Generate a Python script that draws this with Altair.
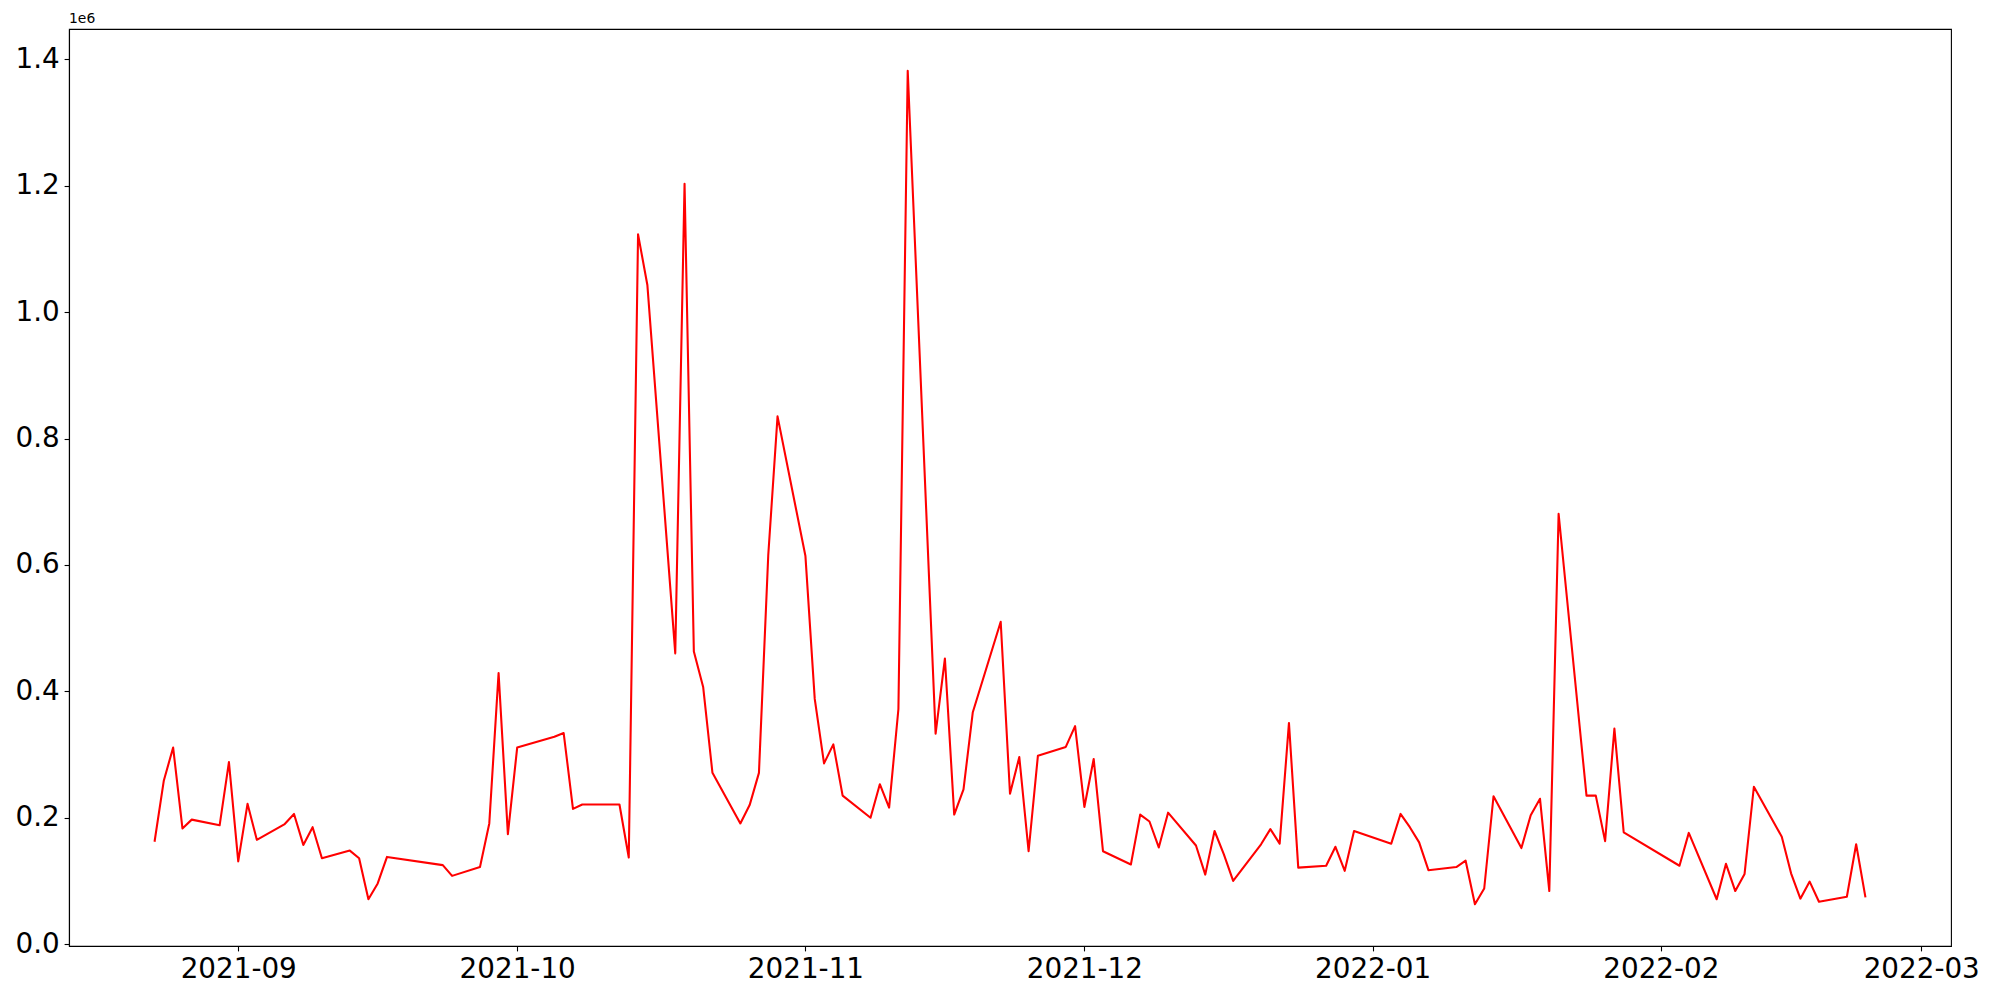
import altair as alt
import pandas as pd

dates = [
    "2021-08-23", "2021-08-24", "2021-08-25", "2021-08-26", "2021-08-27",
    "2021-08-30", "2021-08-31", "2021-09-01", "2021-09-02", "2021-09-03",
    "2021-09-06", "2021-09-07", "2021-09-08", "2021-09-09", "2021-09-10",
    "2021-09-13", "2021-09-14", "2021-09-15", "2021-09-16", "2021-09-17",
    "2021-09-23", "2021-09-24", "2021-09-27", "2021-09-28", "2021-09-29",
    "2021-09-30", "2021-10-01", "2021-10-05", "2021-10-06", "2021-10-07",
    "2021-10-08", "2021-10-12", "2021-10-13", "2021-10-14", "2021-10-15",
    "2021-10-18", "2021-10-19", "2021-10-20", "2021-10-21", "2021-10-22",
    "2021-10-25", "2021-10-26", "2021-10-27", "2021-10-28", "2021-10-29",
    "2021-11-01", "2021-11-02", "2021-11-03", "2021-11-04", "2021-11-05",
    "2021-11-08", "2021-11-09", "2021-11-10", "2021-11-11", "2021-11-12",
    "2021-11-15", "2021-11-16", "2021-11-17", "2021-11-18", "2021-11-19",
    "2021-11-22", "2021-11-23", "2021-11-24", "2021-11-25", "2021-11-26",
    "2021-11-29", "2021-11-30", "2021-12-01", "2021-12-02", "2021-12-03",
    "2021-12-06", "2021-12-07", "2021-12-08", "2021-12-09", "2021-12-10",
    "2021-12-13", "2021-12-14", "2021-12-15", "2021-12-16", "2021-12-17",
    "2021-12-20", "2021-12-21", "2021-12-22", "2021-12-23", "2021-12-24",
    "2021-12-27", "2021-12-28", "2021-12-29", "2021-12-30",
    "2022-01-03", "2022-01-04", "2022-01-05", "2022-01-06", "2022-01-07",
    "2022-01-10", "2022-01-11", "2022-01-12", "2022-01-13", "2022-01-14",
    "2022-01-17", "2022-01-18", "2022-01-19", "2022-01-20", "2022-01-21",
    "2022-01-24", "2022-01-25", "2022-01-26", "2022-01-27", "2022-01-28",
    "2022-02-03", "2022-02-04",
    "2022-02-07", "2022-02-08", "2022-02-09", "2022-02-10", "2022-02-11",
    "2022-02-14", "2022-02-15", "2022-02-16", "2022-02-17", "2022-02-18",
    "2022-02-21", "2022-02-22", "2022-02-23",
]

values = [
    162000, 259000, 311000, 183000, 197000,
    188000, 288000, 131000, 222000, 165000,
    190000, 206000, 157000, 185000, 136000,
    148000, 136000, 71000, 96000, 138000,
    125000, 108000, 122000, 191000, 429000,
    174000, 311000, 328000, 334000, 214000,
    221000, 221000, 137000, 1123000, 1043000,
    460000, 1203000, 463000, 407000, 271000,
    191000, 220000, 271000, 615000, 835000,
    614000, 388000, 286000, 316000, 235000,
    200000, 253000, 216000, 372000, 1382000,
    333000, 452000, 205000, 245000, 367000,
    510000, 238000, 296000, 147000, 298000,
    312000, 345000, 217000, 293000, 147000,
    126000, 205000, 194000, 153000, 208000,
    156000, 110000, 179000, 142000, 100000,
    158000, 182000, 159000, 350000, 121000,
    124000, 154000, 116000, 179000,
    159000, 206000, 185000, 161000, 117000,
    122000, 132000, 63000, 88000, 234000,
    152000, 204000, 230000, 84000, 681000,
    235000, 235000, 163000, 341000, 177000,
    124000, 176000,
    71000, 127000, 84000, 111000, 249000,
    170000, 112000, 72000, 99000, 67000,
    75000, 158000, 74000,
]

x_tick_months = [(2021, 9), (2021, 10), (2021, 11), (2021, 12), (2022, 1), (2022, 2), (2022, 3)]
y_ticks = [0, 200000, 400000, 600000, 800000, 1000000, 1200000, 1400000]

df = pd.DataFrame({"date": dates, "value": values})

x_domain = [
    alt.DateTime(year=2021, month=8, date=13, hours=19, minutes=12, utc=True),
    alt.DateTime(year=2022, month=3, date=4, hours=4, minutes=48, utc=True),
]
x_values = [alt.DateTime(year=y, month=m, date=1, utc=True) for y, m in x_tick_months]

chart = (
    alt.Chart(df)
    .mark_line(color="#ff0000", strokeWidth=2.08, strokeJoin="round")
    .encode(
        x=alt.X(
            "date:T",
            scale=alt.Scale(type="utc", domain=x_domain, nice=False),
            axis=alt.Axis(
                values=x_values,
                labelExpr="utcFormat(datum.value, '%Y-%m')",
                title=None,
                grid=False,
                labelFlush=False,
                labelOverlap=False,
            ),
        ),
        y=alt.Y(
            "value:Q",
            scale=alt.Scale(domain=[-2950, 1447950], nice=False, zero=False),
            axis=alt.Axis(
                values=y_ticks,
                labelExpr="format(datum.value / 1000000, '.1f')",
                title=None,
                grid=False,
                labelFlush=False,
                labelOverlap=False,
            ),
        ),
    )
    .properties(
        width=1882,
        height=917,
        autosize=alt.AutoSizeParams(type="none"),
        padding={"left": 61, "top": 21, "right": 41, "bottom": 46},
        title=alt.TitleParams(
            "1e6",
            anchor="start",
            frame="group",
            fontSize=13.9,
            fontWeight="normal",
            font="DejaVu Sans",
            color="black",
            offset=3,
        ),
    )
    .configure_view(stroke="black", strokeWidth=1.1)
    .configure_axis(
        domainColor="black",
        domainWidth=1.1,
        tickColor="black",
        tickWidth=1.1,
        tickSize=4.9,
        labelPadding=4.9,
        labelColor="black",
        labelFont="DejaVu Sans",
        labelFontSize=27.8,
    )
)

chart.save("out.html", embed_options={"renderer": "svg", "actions": False})
